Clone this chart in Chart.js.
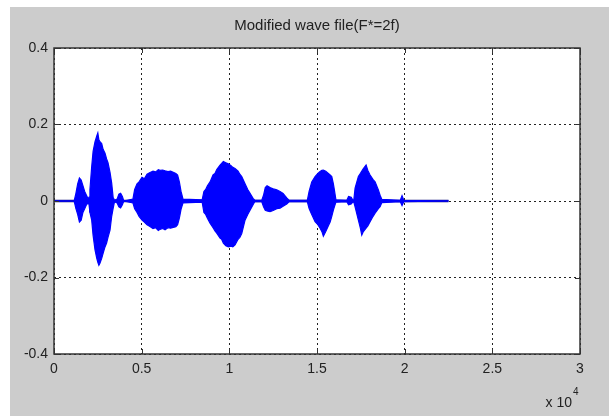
<!DOCTYPE html>
<html>
<head>
<meta charset="utf-8">
<script src="https://cdn.jsdelivr.net/npm/chart.js@4.4.1/dist/chart.umd.min.js"></script>
<style>
  html, body { margin: 0; padding: 0; background: #ffffff; }
  #wrap { width: 609px; height: 416px; }
</style>
</head>
<body>
<div id="wrap"><canvas id="c" width="609" height="416"></canvas></div>
<script>
// ---- data (sample index; amplitude) ----
const titleText = 'Modified wave file(F*=2f)';
const xTickLabels = ['0', '0.5', '1', '1.5', '2', '2.5', '3'];
const yTickLabels = ['-0.4', '-0.2', '0', '0.2', '0.4'];
const xExponentBase = 'x 10';
const xExponent = '4';

// envelope of the modified waveform: sample positions, upper and lower amplitude
const envX = [
  0, 1150, 1250, 1350, 1450, 1550, 1650, 1750, 1850, 1950, 2000,
  2050, 2150, 2230, 2340, 2440, 2500, 2560, 2620, 2720, 2800, 2910, 3000, 3080, 3195, 3290, 3370, 3450,
  3600, 3700, 3800, 3900, 3980,
  4500, 4600, 4735, 4850, 5020, 5150, 5306, 5450, 5648, 5800, 5950, 6047, 6200, 6333, 6500, 6650, 6800, 6950, 7050, 7150, 7245, 7359,
  8450, 8550, 8650, 8750, 8900, 9071, 9180, 9282, 9470, 9560, 9659, 9800, 9944, 10100, 10200, 10326, 10500, 10600, 10708, 10896, 11050, 11182, 11353, 11450,
  11850, 11950, 12050, 12150, 12322, 12500, 12705, 12893, 13064, 13275, 13400,
  14450, 14550, 14700, 14890, 15050, 15175, 15280, 15363, 15500, 15649, 15750, 15843, 15934, 15991, 16080,
  16700, 16800, 16950, 17050,
  17100, 17172, 17360, 17470, 17554, 17645, 17800, 17900, 18028, 18200, 18313, 18501, 18598, 18700,
  19750, 19850, 19950, 22500
];
const envTop = [
  0, 0, 0.02, 0.045, 0.06, 0.055, 0.04, 0.025, 0.015, 0.005, 0.01,
  0.03, 0.09, 0.13, 0.155, 0.17, 0.178, 0.16, 0.155, 0.15, 0.135, 0.125, 0.11, 0.1, 0.075, 0.047, 0.01, 0.002,
  0.005, 0.018, 0.02, 0.012, 0,
  0.005, 0.03, 0.045, 0.05, 0.062, 0.058, 0.07, 0.074, 0.078, 0.076, 0.082, 0.08, 0.081, 0.079, 0.077, 0.078, 0.075, 0.072, 0.068, 0.05, 0.025, 0.005,
  0.003, 0.025, 0.03, 0.04, 0.05, 0.068, 0.072, 0.082, 0.094, 0.098, 0.103, 0.1, 0.097, 0.092, 0.088, 0.085, 0.078, 0.07, 0.064, 0.045, 0.03, 0.02, 0.007, 0.002,
  0.002, 0.015, 0.035, 0.04, 0.035, 0.032, 0.029, 0.025, 0.02, 0.008, 0.002,
  0.002, 0.025, 0.05, 0.064, 0.072, 0.077, 0.08, 0.081, 0.078, 0.072, 0.068, 0.064, 0.045, 0.029, 0.003,
  0.002, 0.012, 0.01, 0.002,
  0.003, 0.034, 0.064, 0.072, 0.078, 0.085, 0.094, 0.08, 0.068, 0.056, 0.05, 0.029, 0.015, 0.004,
  0.002, 0.014, 0.002, 0
];
const envBottom = [
  0, 0, -0.02, -0.035, -0.055, -0.05, -0.03, -0.02, -0.01, -0.005, -0.01,
  -0.03, -0.05, -0.09, -0.128, -0.15, -0.16, -0.168, -0.163, -0.15, -0.137, -0.12, -0.11, -0.095, -0.076, -0.04, -0.02, -0.002,
  -0.005, -0.015, -0.018, -0.01, 0,
  -0.005, -0.02, -0.03, -0.04, -0.05, -0.055, -0.062, -0.066, -0.072, -0.07, -0.077, -0.074, -0.072, -0.075, -0.07, -0.071, -0.069, -0.067, -0.062, -0.045, -0.022, -0.005,
  -0.003, -0.03, -0.035, -0.045, -0.058, -0.07, -0.078, -0.084, -0.097, -0.1, -0.11, -0.117, -0.12, -0.118, -0.12, -0.115, -0.1, -0.095, -0.085, -0.05, -0.035, -0.024, -0.01, -0.002,
  -0.002, -0.015, -0.024, -0.026, -0.028, -0.025, -0.02, -0.019, -0.014, -0.008, -0.002,
  -0.002, -0.02, -0.035, -0.054, -0.062, -0.071, -0.08, -0.092, -0.08, -0.065, -0.055, -0.04, -0.024, -0.015, -0.003,
  -0.002, -0.01, -0.008, -0.002,
  -0.003, -0.015, -0.05, -0.07, -0.089, -0.08, -0.071, -0.065, -0.054, -0.04, -0.032, -0.02, -0.015, -0.004,
  -0.002, -0.012, -0.002, 0
];
// baseline trace of the signal (start and end sample)
const lineX = [0, 22500];
const lineY = [0, 0];

const xMin = 0, xMax = 30000, xStep = 5000;
const yMin = -0.4, yMax = 0.4, yStep = 0.2;

// ---- styles ----
const FONT = "'Liberation Sans', Arial, sans-serif";
const BG = '#cccccc';
const FRAME = '#333333';

const bgPlugin = {
  id: 'bg',
  beforeDraw(chart) {
    const { ctx, chartArea: a } = chart;
    ctx.save();
    ctx.fillStyle = '#ffffff';
    ctx.fillRect(0, 0, chart.width, chart.height);
    ctx.fillStyle = BG;
    ctx.fillRect(10, 7, chart.width - 10, chart.height - 7);
    ctx.fillStyle = '#ffffff';
    ctx.fillRect(a.left, a.top, a.right - a.left, a.bottom - a.top);
    ctx.restore();
  },
  afterDraw(chart) {
    const { ctx, chartArea: a, scales } = chart;
    ctx.save();
    // inward tick marks
    ctx.strokeStyle = FRAME;
    ctx.lineWidth = 1;
    ctx.beginPath();
    scales.x.ticks.forEach(t => {
      const px = Math.round(scales.x.getPixelForValue(t.value)) + 0.5;
      ctx.moveTo(px, a.bottom); ctx.lineTo(px, a.bottom - 5);
      ctx.moveTo(px, a.top); ctx.lineTo(px, a.top + 5);
    });
    scales.y.ticks.forEach(t => {
      const py = Math.round(scales.y.getPixelForValue(t.value)) + 0.5;
      ctx.moveTo(a.left, py); ctx.lineTo(a.left + 5, py);
      ctx.moveTo(a.right, py); ctx.lineTo(a.right - 5, py);
    });
    ctx.stroke();
    // frame
    ctx.lineWidth = 1.5;
    ctx.strokeRect(a.left, a.top, a.right - a.left, a.bottom - a.top);
    // exponent label
    ctx.fillStyle = '#222222';
    ctx.font = '14px ' + FONT;
    ctx.textAlign = 'right';
    ctx.textBaseline = 'alphabetic';
    const xr = scales.x.getPixelForValue(xMax);
    ctx.fillText(xExponentBase, xr - 8, a.bottom + 53);
    ctx.font = '10px ' + FONT;
    ctx.textAlign = 'left';
    ctx.fillText(xExponent, xr - 7, a.bottom + 41);
    ctx.restore();
  }
};

const pts = (xs, ys) => xs.map((x, i) => ({ x: x, y: ys[i] }));

new Chart(document.getElementById('c'), {
  type: 'line',
  data: {
    datasets: [
      {
        label: 'upper',
        data: pts(envX, envTop),
        borderColor: '#0000ff',
        backgroundColor: '#0000ff',
        borderWidth: 1.2,
        pointRadius: 0,
        tension: 0,
        fill: '+1',
        order: 0
      },
      {
        label: 'lower',
        data: pts(envX, envBottom),
        borderColor: '#0000ff',
        backgroundColor: '#0000ff',
        borderWidth: 1.2,
        pointRadius: 0,
        tension: 0,
        fill: false,
        order: 0
      },
      {
        label: 'signal',
        data: pts(lineX, lineY),
        borderColor: '#14147a',
        borderWidth: 2.5,
        pointRadius: 0,
        fill: false,
        order: 1
      }
    ]
  },
  options: {
    responsive: false,
    animation: false,
    devicePixelRatio: 1,
    layout: { padding: { left: 0, right: 29, top: 16.5, bottom: 0 } },
    plugins: {
      legend: { display: false },
      tooltip: { enabled: false },
      title: {
        display: true,
        fullSize: false,
        text: titleText,
        color: '#222222',
        font: { family: FONT, size: 15, weight: 'normal' },
        padding: { top: 0, bottom: 13.5 }
      }
    },
    scales: {
      x: {
        type: 'linear',
        min: xMin, max: xMax,
        afterFit(s) { s.height = 62; },
        afterBuildTicks(s) {
          s.ticks = xTickLabels.map((_, i) => ({ value: xMin + i * xStep }));
        },
        ticks: {
          stepSize: xStep,
          color: '#222222',
          font: { family: FONT, size: 14 },
          padding: 7,
          maxRotation: 0,
          callback: (v, i) => xTickLabels[i]
        },
        grid: { color: '#222222', lineWidth: 1, drawTicks: false },
        border: { display: false, dash: [2, 3] }
      },
      y: {
        type: 'linear',
        min: yMin, max: yMax,
        afterFit(s) { s.width = 54; },
        afterBuildTicks(s) {
          s.ticks = yTickLabels.map((_, i) => ({ value: yMin + i * yStep }));
        },
        ticks: {
          color: '#222222',
          font: { family: FONT, size: 14 },
          padding: 6,
          callback: (v, i) => yTickLabels[i]
        },
        grid: { color: '#222222', lineWidth: 1, drawTicks: false },
        border: { display: false, dash: [2, 3] }
      }
    }
  },
  plugins: [bgPlugin]
});
</script>
</body>
</html>
